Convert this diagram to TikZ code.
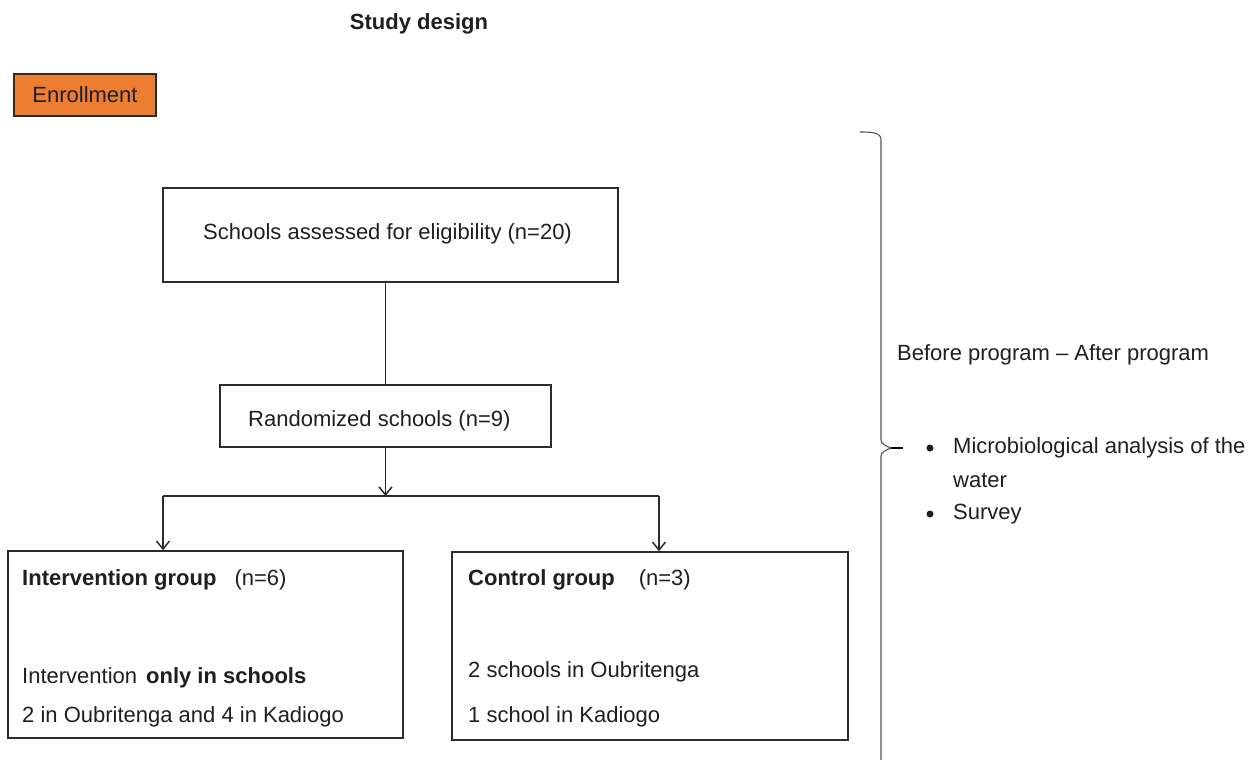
\documentclass[tikz,border=0pt]{standalone}
\usepackage{fontspec}
\setmainfont{Liberation Sans}
\usetikzlibrary{arrows.meta}
\definecolor{enrollorange}{HTML}{ED7D31}
\definecolor{linegray}{HTML}{2B2B2B}
\definecolor{bracegray}{HTML}{555555}
\begin{document}
\begin{tikzpicture}[x=1pt,y=-1pt,
  every node/.style={font=\fontsize{22}{26}\selectfont, text=black!88},
  box/.style={draw=linegray, line width=1.6pt, inner sep=0pt},
  txt/.style={anchor=west, inner sep=0pt, text height=16pt, text depth=5pt},
  conn/.style={draw=linegray, line width=1.6pt},
  arr/.style={conn, -{Straight Barb[length=8pt,width=13pt,line width=1.5pt]}},
  bullet/.style={circle, fill=black!88, inner sep=0pt, minimum size=7pt}
]
\useasboundingbox (0,0) rectangle (1250,760);

% title
\node[font=\fontsize{22}{26}\selectfont\bfseries] (title) at (419,24) {Study design};

% enrollment
\node[box, fill=enrollorange, minimum width=142pt, minimum height=42pt] (enroll) at (85,95) {Enrollment};

% schools assessed
\node[box, minimum width=455pt, minimum height=94pt] (schools) at (390.5,235) {};
\node[txt] (schoolstxt) at (203,234) {Schools assessed for eligibility (n=20)};

% randomized
\node[box, minimum width=331pt, minimum height=62pt] (rand) at (385.5,416) {};
\node[txt] (randtxt) at (248,421) {Randomized schools (n=9)};

% intervention group
\node[box, minimum width=395pt, minimum height=187pt] (lbox) at (205.5,644.5) {};
\node[txt] (l1) at (22,580) {\textbf{Intervention group}\hspace{18pt}(n=6)};
\node[txt] (l2) at (22,678) {Intervention\hspace{9pt}\textbf{only in schools}};
\node[txt] (l3) at (22,717) {2 in Oubritenga and 4 in Kadiogo};

% control group
\node[box, minimum width=396pt, minimum height=188pt] (rbox) at (650,646) {};
\node[txt] (r1) at (468,580) {\textbf{Control group}\hspace{24pt}(n=3)};
\node[txt] (r2) at (468,672) {2 schools in Oubritenga};
\node[txt] (r3) at (468,717) {1 school in Kadiogo};

% connectors
\draw[conn] (rand.north) -- (rand.north |- schools.south);
\coordinate (split) at (385.5,496);
\coordinate (jl) at (163,496);
\coordinate (jr) at (659,496);
\draw[arr] (rand.south) -- (split);
\draw[conn] (jl) -- (jr);
\draw[arr] (jl) -- (jl |- lbox.north);
\draw[arr] (jr) -- (jr |- rbox.north);

% brace
\coordinate (btop) at (860,132);
\coordinate (btip) at (891,448);
\coordinate (bend) at (903,448);
\coordinate (bbot) at (881,770);
\draw[draw=bracegray, line width=1.1pt]
  (btop) .. controls (874,132) and (881,133) .. (881,140)
  -- (881,440) .. controls (881,444) and (886,446) .. (btip)
  .. controls (886,450) and (881,452) .. (881,456) -- (bbot);
\draw[draw=black, line width=1.5pt] (btip) -- (bend);

% right text
\node[txt] (before) at (897,355) {Before program – After program};
\node[bullet] (b1) at (930,448) {};
\node[txt] (m1) at (953,448) {Microbiological analysis of the};
\node[txt] (m2) at (953,482) {water};
\node[bullet] (b2) at (930,514) {};
\node[txt] (m3) at (953,514) {Survey};
\end{tikzpicture}
\end{document}
